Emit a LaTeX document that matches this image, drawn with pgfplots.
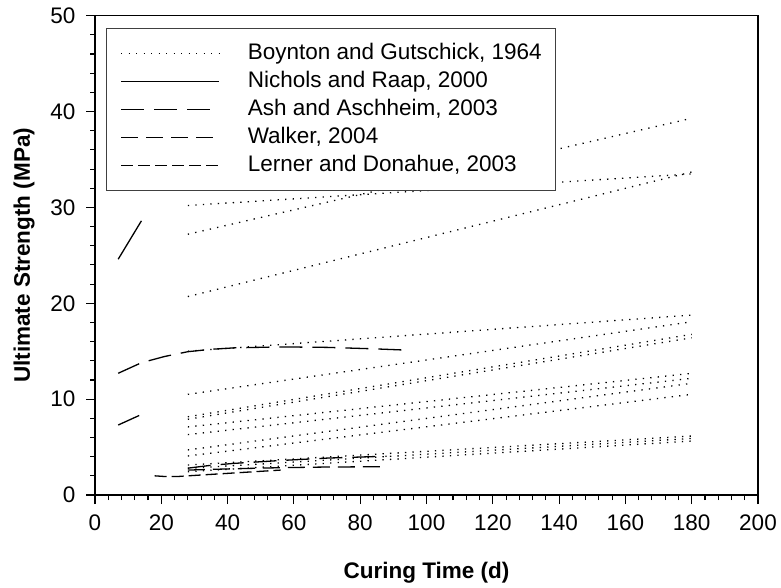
\documentclass[border=0pt]{standalone}
\usepackage{pgfplots}
\pgfplotsset{compat=1.18}
\usepackage{fontspec}
\setmainfont{Liberation Sans}

% dash styles used by the five data sources
\tikzset{
  boynton/.style={line width=1.3pt, dash pattern=on 1.3pt off 6.2pt},
  nichols/.style={line width=1.3pt},
  ash/.style={line width=1.3pt, dash pattern=on 23pt off 10pt},
  walker/.style={line width=1.3pt, dash pattern=on 17pt off 8pt},
  lerner/.style={line width=1.3pt, dash pattern=on 12pt off 5pt},
}

\begin{document}
\begin{tikzpicture}
\useasboundingbox (0,0) rectangle (781pt,587pt);
\begin{axis}[
  at={(95pt,92pt)}, anchor=south west,
  width=663pt, height=479.3pt, scale only axis,
  xmin=0, xmax=200, ymin=0, ymax=50,
  xtick={0,20,...,200}, ytick={0,10,...,50},
  minor x tick num=4, minor y tick num=4,
  tick align=outside, xtick pos=bottom, ytick pos=left,
  major tick length=9pt, minor tick length=5pt,
  axis line style={line width=1.2pt},
  every tick/.style={black, line width=1.1pt},
  font=\fontsize{22.5}{27}\selectfont,
  /pgf/number format/assume math mode=true,
  xticklabel style={font=\fontsize{22.5}{27}\selectfont, yshift=-7pt},
  yticklabel style={font=\fontsize{22.5}{27}\selectfont, xshift=-7pt},
  xlabel={\bfseries Curing Time (d)},
  ylabel={\bfseries Ultimate Strength (MPa)},
  xlabel style={font=\fontsize{22.5}{27}\selectfont\bfseries, yshift=-25pt},
  ylabel style={font=\fontsize{22.5}{27}\selectfont\bfseries, yshift=9pt},
  legend style={
    at={(0.0166,0.9737)}, anchor=north west,
    draw=black!75, line width=1pt,
    inner xsep=14pt, inner ysep=11pt,
    font=\fontsize{22.5}{27}\selectfont,
    nodes={inner sep=0pt, text height=16.5pt, text depth=5.5pt, inner ysep=3pt},
    /tikz/every odd column/.append style={column sep=28pt},
  },
  legend cell align=left,
  legend image code/.code={\draw[#1] (0pt,0pt) -- (98pt,0pt);},
]
% Boynton and Gutschick, 1964: straight lines from 28 to 180 days
\addplot[boynton] coordinates {(28,30.2) (180,33.5)};
\addlegendentry{Boynton and Gutschick, 1964}
\addplot[nichols] coordinates {(7,24.6) (14,28.6)};
\addlegendentry{Nichols and Raap, 2000}
\addplot[ash] coordinates {(7,12.7) (14,13.8) (21,14.45) (28,14.95) (35,15.2) (42,15.35) (56,15.45) (70,15.4) (84,15.25) (95,15.1)};
\addlegendentry{Ash and Aschheim, 2003}
\addplot[walker] coordinates {(28,2.6) (40,2.72) (56,2.85) (70,2.92) (88,2.95)};
\addlegendentry{Walker, 2004}
\addplot[lerner] coordinates {(18,2.0) (21,1.93) (25,1.93) (28,2.0) (35,2.15) (42,2.3) (49,2.45) (56,2.6)};
\addlegendentry{Lerner and Donahue, 2003}

% remaining Boynton and Gutschick lines
\addplot[boynton, forget plot] coordinates {(28,27.2) (180,39.3)};
\addplot[boynton, forget plot] coordinates {(28,20.7) (180,33.7)};
\addplot[boynton, forget plot] coordinates {(28,15.0) (180,18.77)};
\addplot[boynton, forget plot] coordinates {(28,10.5) (180,18.07)};
\addplot[boynton, forget plot] coordinates {(28,8.16) (180,16.76)};
\addplot[boynton, forget plot] coordinates {(28,7.9) (180,16.4)};
\addplot[boynton, forget plot] coordinates {(28,7.1) (180,12.69)};
\addplot[boynton, forget plot] coordinates {(28,6.3) (180,12.17)};
\addplot[boynton, forget plot] coordinates {(28,4.7) (180,11.65)};
\addplot[boynton, forget plot] coordinates {(28,4.07) (180,10.5)};
\addplot[boynton, forget plot] coordinates {(28,3.13) (180,6.15)};
\addplot[boynton, forget plot] coordinates {(28,2.78) (180,5.9)};
\addplot[boynton, forget plot] coordinates {(28,2.43) (180,5.63)};

% further Ash and Aschheim curves
\addplot[ash, forget plot] coordinates {(7,7.3) (14,8.4)};
\addplot[ash, forget plot] coordinates {(28,2.8) (35,3.1) (42,3.3) (56,3.6) (70,3.85) (88,4.05)};
\end{axis}
\end{tikzpicture}
\end{document}
